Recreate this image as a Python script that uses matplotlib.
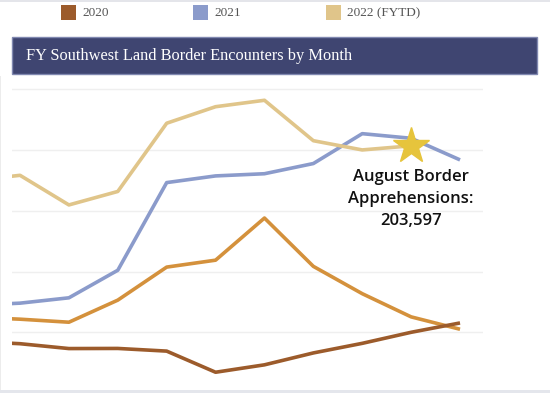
import numpy as np
import matplotlib.pyplot as plt
from matplotlib.patches import Rectangle

# fiscal-year months shown (Oct is off the left edge)
months = ["Nov", "Dec", "Jan", "Feb", "Mar", "Apr", "May", "Jun", "Jul", "Aug", "Sep"]

# monthly encounters
fy2019 = [62500, 60800, 58300, 76500, 103700, 109400, 144100, 104300, 81800, 62700, 52500]
fy2020 = [42600, 40600, 36600, 36700, 34500, 17100, 23200, 33000, 40900, 50000, 57700]
fy2021 = [72100, 74000, 78400, 101100, 173300, 178800, 180600, 189000, 213600, 209800, 192000]
fy2022 = [174800, 179300, 154900, 166000, 222200, 235800, 241100, 207800, 200200, 203597]

legend_labels = ["2020", "2021", "2022 (FYTD)"]
grid_levels = [50000, 100000, 150000, 200000, 250000]

c2019 = "#d4913c"
c2020 = "#9c5b2b"
c2021 = "#8b9bcb"
c2022 = "#e0c58a"

W, H = 550, 393
fig = plt.figure(figsize=(W / 100, H / 100), dpi=100)


def px(x, y):
    # pixel (from top-left) -> figure fraction
    return x / W, 1 - y / H


def rect(x0, y0, x1, y1, **kw):
    fx, fy = px(x0, y1)
    fig.patches.append(Rectangle((fx, fy), (x1 - x0) / W, (y1 - y0) / H,
                                 transform=fig.transFigure, **kw))


# page decorations
rect(0, 0, W, 1.5, facecolor="#e4e5ea", edgecolor="none")
rect(0, 390, W, H, facecolor="#e4e6ec", edgecolor="none")
rect(0, 76, 1, 390, facecolor="#ececec", edgecolor="none")

# legend
for sx, lab, col in zip([61, 193, 326], legend_labels, [c2020, c2021, c2022]):
    rect(sx, 5, sx + 15, 20, facecolor=col, edgecolor="none")
    fx, fy = px(sx + 21, 13)
    fig.text(fx, fy, lab, ha="left", va="center", fontsize=9.5,
             family="Liberation Serif", color="#555555")

# title bar
rect(11.5, 37.5, 536.5, 73.5, facecolor="#3f4571", edgecolor="#8088b0", linewidth=1)
fx, fy = px(26, 56)
fig.text(fx, fy, "FY Southwest Land Border Encounters by Month", ha="left", va="center",
         fontsize=11.8, family="Liberation Serif", color="white")

# plot area
ax = fig.add_axes([12 / W, 0, (483 - 12) / W, (H - 80) / H])
ax.set_xlim(0.836, 10.47)
ax.set_ylim(0, 257800)
ax.axis("off")

for g in grid_levels:
    ax.axhline(g, color="#efefef", linewidth=1, zorder=0)

x_all = np.arange(len(months))
lw = 2.6
ax.plot(x_all, fy2019, color=c2019, lw=lw, solid_capstyle="butt", zorder=2)
ax.plot(x_all, fy2020, color=c2020, lw=lw, solid_capstyle="butt", zorder=3)
ax.plot(x_all, fy2021, color=c2021, lw=lw, solid_capstyle="butt", zorder=2)
ax.plot(x_all[:len(fy2022)], fy2022, color=c2022, lw=lw, solid_capstyle="butt", zorder=2)

# August star + note
aug = months.index("Aug")
ax.plot(aug, fy2022[aug], marker="*", markersize=27, color="#e6c43c",
        markeredgecolor="#e6c43c", zorder=5)
fx, fy = px(411, 199)
fig.text(fx, fy, "August Border\nApprehensions:\n{:,}".format(fy2022[aug]),
         ha="center", va="center", fontsize=12, family="Open Sans",
         fontweight="semibold", color="#111111", linespacing=1.5)

fig.savefig("out.png", dpi=100)
